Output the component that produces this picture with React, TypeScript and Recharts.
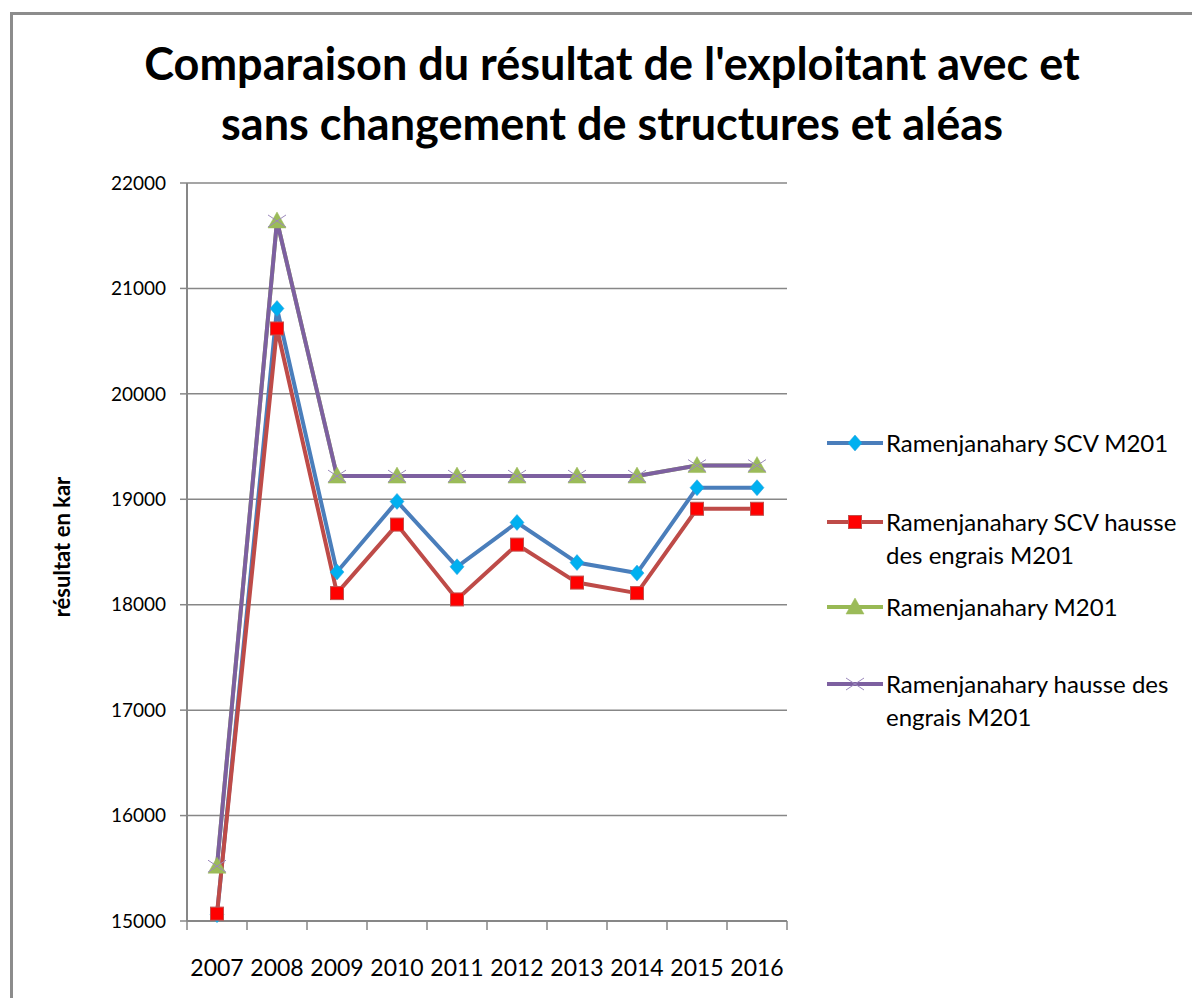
import React from 'react';
import { LineChart, Line, XAxis, YAxis, CartesianGrid, Label } from 'recharts';

const years = ['2007', '2008', '2009', '2010', '2011', '2012', '2013', '2014', '2015', '2016'];
const scvM201 = [15060, 20810, 18310, 18980, 18360, 18780, 18400, 18300, 19110, 19110];
const scvHausseM201 = [15070, 20620, 18110, 18760, 18050, 18570, 18210, 18110, 18910, 18910];
const m201 = [15520, 21640, 19220, 19220, 19220, 19220, 19220, 19220, 19320, 19320];
const hausseM201 = [15520, 21640, 19220, 19220, 19220, 19220, 19220, 19220, 19320, 19320];
const yTicks = [15000, 16000, 17000, 18000, 19000, 20000, 21000, 22000];
const seriesNames = [
  'Ramenjanahary SCV M201',
  'Ramenjanahary SCV hausse des engrais M201',
  'Ramenjanahary M201',
  'Ramenjanahary hausse des engrais M201',
];
const titleLines = [
  "Comparaison du résultat de l'exploitant avec et",
  'sans changement de structures et aléas',
];
const yLabel = 'résultat en kar';

const data = years.map((y, i) => ({
  year: y,
  s1: scvM201[i],
  s2: scvHausseM201[i],
  s3: m201[i],
  s4: hausseM201[i],
}));

const FONT = 'Lato, "Open Sans", sans-serif';
const GRID = '#878787';

const colors = ['#4A7EBB', '#BE4B48', '#98B954', '#7D60A0'];

type Shape = (cx: number, cy: number, key?: string) => React.ReactElement;

const shapes: Shape[] = [
  (cx, cy, key) => (
    <path key={key} d={`M${cx},${cy - 8} L${cx + 7},${cy} L${cx},${cy + 8} L${cx - 7},${cy} Z`} fill="#00B0F0" stroke="#2E9FD8" strokeWidth={0.5} />
  ),
  (cx, cy, key) => (
    <rect key={key} x={cx - 6.5} y={cy - 6.5} width={13} height={13} fill="#FF0000" stroke="#C0504D" strokeWidth={1} />
  ),
  (cx, cy, key) => (
    <path key={key} d={`M${cx},${cy - 9} L${cx + 9},${cy + 7} L${cx - 9},${cy + 7} Z`} fill="#9BBB59" stroke="#9BBB59" strokeWidth={0.5} />
  ),
  (cx, cy, key) => (
    <g key={key} stroke="#9B88BC" strokeWidth={1}>
      <line x1={cx - 9} y1={cy - 6} x2={cx + 9} y2={cy + 6} />
      <line x1={cx - 9} y1={cy + 6} x2={cx + 9} y2={cy - 6} />
    </g>
  ),
];

const makeDot = (si: number) => (p: any) => shapes[si](p.cx, p.cy, `dot-${si}-${p.index}`);

const XTick = (props: any) => {
  const { x, y, payload, index, visibleTicksCount } = props;
  const off = payload && typeof payload.offset === 'number' && payload.offset > 0 ? payload.offset : 30;
  const axisY = y - 8;
  const isLast = index === (visibleTicksCount ?? years.length) - 1;
  return (
    <g>
      <line x1={x - off} x2={x - off} y1={axisY} y2={axisY + 9} stroke={GRID} strokeWidth={1.5} />
      {isLast && <line x1={x + off} x2={x + off} y1={axisY} y2={axisY + 9} stroke={GRID} strokeWidth={1.5} />}
      <text x={x} y={axisY} dy={55} textAnchor="middle" fontFamily={FONT} fontSize={23} fill="#000">
        {payload.value}
      </text>
    </g>
  );
};

const YLabelContent = (props: any) => {
  const vb = props.viewBox || { x: 0, y: 175, width: 179, height: 738 };
  const cx = vb.x + 53;
  const cy = vb.y + vb.height / 2 - 5;
  return (
    <text
      x={cx}
      y={cy}
      transform={`rotate(-90, ${cx}, ${cy})`}
      textAnchor="middle"
      dominantBaseline="central"
      fontFamily={FONT}
      fontSize={22}
      fontWeight={700}
      fill="#000"
    >
      {yLabel}
    </text>
  );
};

const legendTops = [420, 499, 584, 661];

export default function App() {
  return (
    <div style={{ position: 'relative', width: 1192, height: 990, background: '#fff', overflow: 'hidden' }}>
      <div
        style={{
          position: 'absolute', left: 2, top: 4, right: -10, bottom: -10,
          borderTop: '3px solid #8C8C8C', borderLeft: '3px solid #8C8C8C',
        }}
      />
      <div
        style={{
          position: 'absolute', left: 8, top: 25, width: 1192, textAlign: 'center',
          fontFamily: FONT, fontWeight: 700, fontSize: 45, lineHeight: '60px', color: '#000',
        }}
      >
        {titleLines.map((t) => (
          <div key={t}>{t}</div>
        ))}
      </div>
      <div style={{ position: 'absolute', left: 0, top: 0 }}>
        <LineChart
          width={1192}
          height={990}
          data={data}
          margin={{ top: 175, right: 413, bottom: 37, left: 0 }}
        >
          <CartesianGrid vertical={false} stroke={GRID} strokeWidth={1.5} />
          <XAxis
            dataKey="year"
            scale="band"
            height={40}
            tickLine={false}
            axisLine={{ stroke: GRID, strokeWidth: 2 }}
            interval={0}
            tick={<XTick />}
          />
          <YAxis
            width={179}
            domain={[15000, 22000]}
            ticks={yTicks}
            interval={0}
            axisLine={{ stroke: GRID, strokeWidth: 2 }}
            tickLine={{ stroke: GRID, strokeWidth: 1.5 }}
            tickSize={7}
            tickMargin={14}
            tick={{ fontFamily: FONT, fontSize: 19, fill: '#000' }}
          >
            <Label content={<YLabelContent />} />
          </YAxis>
          <Line type="linear" dataKey="s1" stroke={colors[0]} strokeWidth={4} dot={makeDot(0)} activeDot={false} isAnimationActive={false} />
          <Line type="linear" dataKey="s2" stroke={colors[1]} strokeWidth={4} dot={makeDot(1)} activeDot={false} isAnimationActive={false} />
          <Line type="linear" dataKey="s3" stroke={colors[2]} strokeWidth={4} dot={makeDot(2)} activeDot={false} isAnimationActive={false} />
          <Line type="linear" dataKey="s4" stroke={colors[3]} strokeWidth={4} dot={makeDot(3)} activeDot={false} isAnimationActive={false} />
        </LineChart>
      </div>
      {seriesNames.map((name, i) => (
        <div
          key={name}
          style={{ position: 'absolute', left: 818, top: legendTops[i], display: 'flex', alignItems: 'flex-start' }}
        >
          <svg width={58} height={30} style={{ flex: 'none' }}>
            <line x1={1} x2={57} y1={15} y2={15} stroke={colors[i]} strokeWidth={4} />
            {shapes[i](29, 15)}
          </svg>
          <div
            style={{
              width: 305, marginLeft: 2, fontFamily: FONT, fontSize: 24, lineHeight: '33px',
              marginTop: -2, color: '#000',
            }}
          >
            {name}
          </div>
        </div>
      ))}
    </div>
  );
}
